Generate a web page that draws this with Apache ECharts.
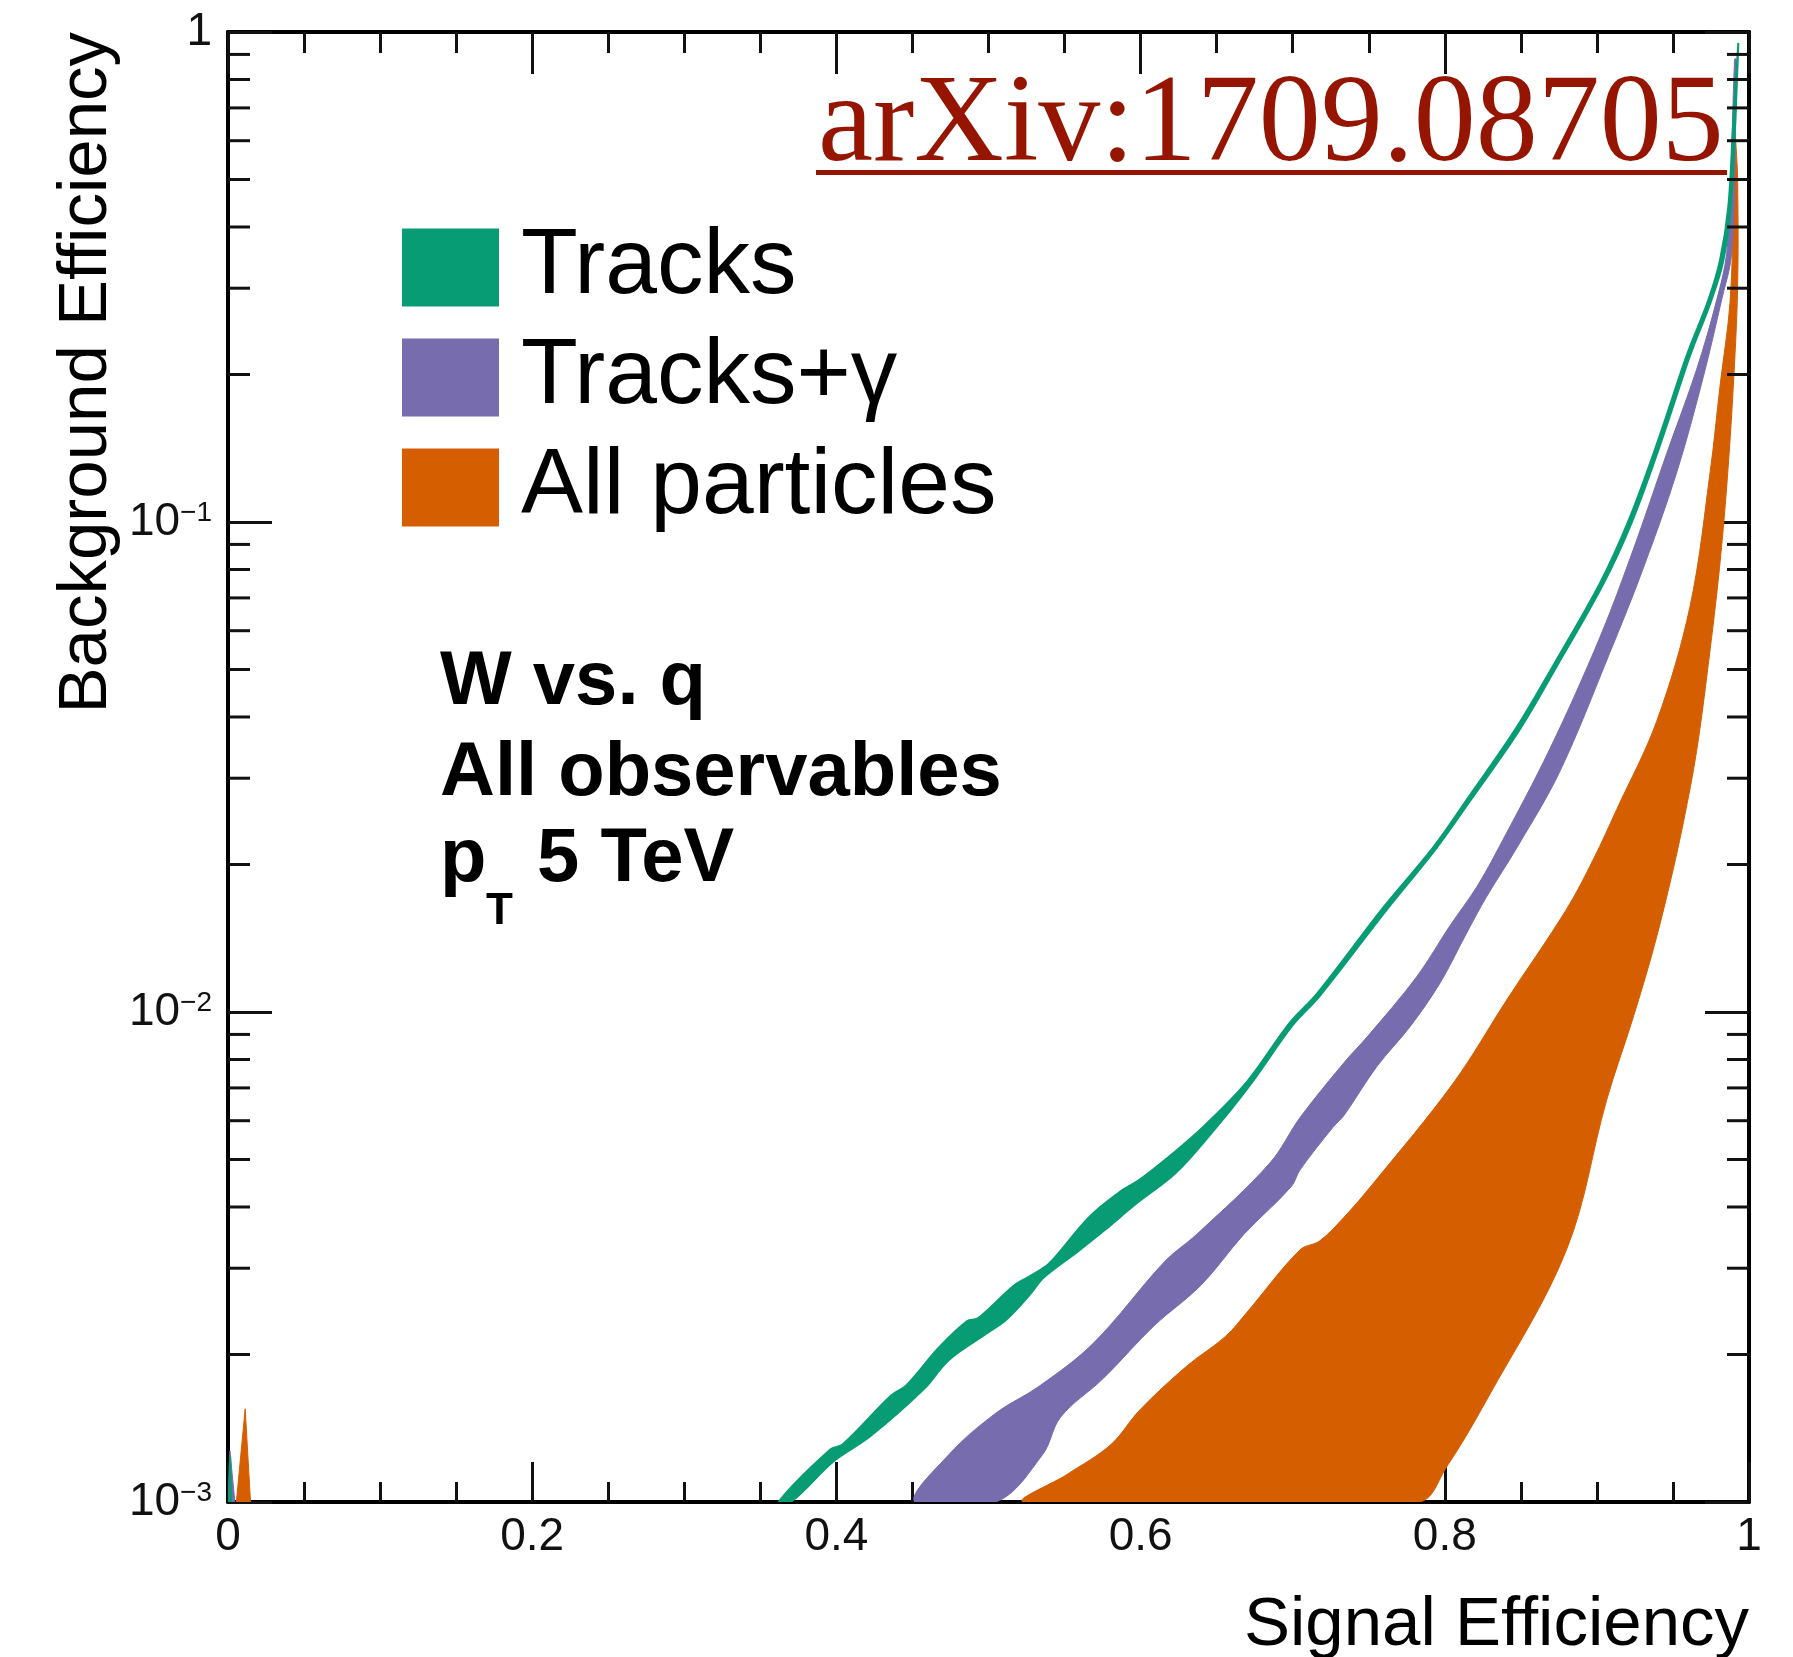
<!DOCTYPE html>
<html>
<head>
<meta charset="utf-8">
<title>W vs. q - ROC bands</title>
<script src="https://cdn.jsdelivr.net/npm/echarts@6/dist/echarts.min.js"></script>
<style>
  html, body { margin: 0; padding: 0; background: #fff; }
  #chart { width: 1793px; height: 1657px; }
</style>
</head>
<body>
<div id="chart"></div>
<script>
// axis ticks
var xTickValues = [0, 0.2, 0.4, 0.6, 0.8, 1];
var xTickLabels = ['0', '0.2', '0.4', '0.6', '0.8', '1'];
var yTickValues = [0.001, 0.01, 0.1, 1];
var yTickLabels = ['10{sup|\u22123}', '10{sup|\u22122}', '10{sup|\u22121}', '1'];
var yMinorTicks = [0.002, 0.003, 0.004, 0.005, 0.006, 0.007, 0.008, 0.009,
                   0.02, 0.03, 0.04, 0.05, 0.06, 0.07, 0.08, 0.09,
                   0.2, 0.3, 0.4, 0.5, 0.6, 0.7, 0.8, 0.9];

var seriesNames = ['Tracks', 'Tracks+\u03b3', 'All particles'];
var seriesColors = ['#079c73', '#766cae', '#d55e00'];

// band edges as [signal eff, background eff], bottom to top
// "upper" = left/high edge, "lower" = right/low edge
var tracksUpper = [
  [0.362, 0.001], [0.396, 0.00128], [0.404, 0.00131], [0.436, 0.00165], [0.446, 0.00173],
  [0.467, 0.00206], [0.486, 0.00234], [0.493, 0.00237], [0.517, 0.00277], [0.529, 0.00291],
  [0.540, 0.00307], [0.566, 0.00381], [0.588, 0.00433], [0.599, 0.00454], [0.623, 0.0052],
  [0.642, 0.00586], [0.670, 0.00721], [0.698, 0.0095], [0.716, 0.0109], [0.760, 0.0164],
  [0.7925, 0.0217], [0.8144, 0.0271], [0.847, 0.038], [0.872, 0.0514], [0.902, 0.075],
  [0.921, 0.101], [0.939, 0.143], [0.9568, 0.209], [0.9612, 0.228], [0.9733, 0.284],
  [0.981, 0.343], [0.9864, 0.44], [0.9897, 0.66], [0.993, 0.95]
];
var tracksLower = [
  [0.370, 0.001], [0.398, 0.00121], [0.422, 0.00136], [0.4575, 0.0017], [0.474, 0.00195],
  [0.500, 0.00222], [0.512, 0.00236], [0.5285, 0.00268], [0.5356, 0.00286], [0.559, 0.00325],
  [0.576, 0.00358], [0.597, 0.00406], [0.623, 0.00469], [0.647, 0.00568], [0.672, 0.0071],
  [0.700, 0.0094], [0.718, 0.0108], [0.762, 0.0162], [0.794, 0.0215], [0.816, 0.0268],
  [0.849, 0.0376], [0.874, 0.051], [0.904, 0.0745], [0.923, 0.1], [0.941, 0.142],
  [0.9588, 0.208], [0.9632, 0.227], [0.975, 0.282], [0.983, 0.34], [0.988, 0.44],
  [0.991, 0.66], [0.993, 0.95]
];
var tracksSpike = [[0.0008, 0.001], [0.0014, 0.00124], [0.002, 0.001]];

var tracksGammaUpper = [
  [0.4516, 0.001], [0.474, 0.00125], [0.505, 0.00152], [0.533, 0.00172], [0.569, 0.00211],
  [0.616, 0.0031], [0.637, 0.00352], [0.685, 0.00492], [0.705, 0.0061], [0.734, 0.0079],
  [0.749, 0.0089], [0.7815, 0.0118], [0.8034, 0.015], [0.821, 0.018], [0.836, 0.0218],
  [0.8692, 0.0345], [0.902, 0.0582], [0.924, 0.088], [0.9459, 0.138], [0.9656, 0.205],
  [0.9788, 0.284], [0.9853, 0.353], [0.988, 0.5], [0.9905, 0.88]
];
var tracksGammaLower = [
  [0.5048, 0.001], [0.5356, 0.00125], [0.5474, 0.00149], [0.5757, 0.00179], [0.6089, 0.00229],
  [0.6397, 0.00277], [0.668, 0.00352], [0.699, 0.0044], [0.7048, 0.00476], [0.7267, 0.00583],
  [0.7337, 0.00615], [0.7552, 0.00773], [0.7771, 0.00933], [0.7968, 0.01145], [0.8144, 0.0145],
  [0.8275, 0.0172], [0.848, 0.0218], [0.8757, 0.031], [0.9086, 0.0542], [0.9305, 0.0805],
  [0.9524, 0.126], [0.970, 0.198], [0.982, 0.284], [0.9886, 0.353], [0.991, 0.6], [0.9915, 0.88]
];
var tracksGammaSpike = [[0.0, 0.001], [0.0013, 0.00127], [0.0045, 0.001]];

var allUpper = [
  [0.5237, 0.001], [0.552, 0.00114], [0.5805, 0.00131], [0.5994, 0.00154], [0.630, 0.00189],
  [0.656, 0.00218], [0.670, 0.00244], [0.7048, 0.00327], [0.7177, 0.00341], [0.7337, 0.00381],
  [0.753, 0.00447], [0.8056, 0.00716], [0.8407, 0.01058], [0.880, 0.0162], [0.8977, 0.0205],
  [0.913, 0.0259], [0.9393, 0.0392], [0.9612, 0.0672], [0.9744, 0.126], [0.981, 0.19],
  [0.9875, 0.28], [0.990, 0.45], [0.991, 0.62]
];
var allLower = [
  [0.7826, 0.001], [0.8012, 0.00118], [0.8275, 0.001615], [0.880, 0.00327], [0.9064, 0.00661],
  [0.924, 0.00978], [0.937, 0.0134], [0.948, 0.0183], [0.957, 0.0245], [0.9655, 0.034],
  [0.9735, 0.052], [0.9805, 0.08], [0.9855, 0.12], [0.9895, 0.185], [0.9925, 0.3],
  [0.9925, 0.5], [0.991, 0.62]
];
var allSpike = [[0.0055, 0.001], [0.0113, 0.00155], [0.0148, 0.001]];

function closeBand(upper, lower) {
  return upper.concat(lower.slice().reverse());
}

var bands = [
  [closeBand(tracksUpper, tracksLower), tracksSpike],
  [closeBand(tracksGammaUpper, tracksGammaLower), tracksGammaSpike],
  [closeBand(allUpper, allLower), allSpike]
];
var strokeWidths = [2, 1, 1];

var FONT = '"Liberation Sans", Arial, Helvetica, sans-serif';

function bandRenderer(polys, lw) {
  return function (params, api) {
    if (params.dataIndex !== 0) return null;
    var color = api.visual('color');
    var cs = params.coordSys;
    return {
      type: 'group',
      clipPath: { type: 'rect', shape: { x: cs.x, y: cs.y, width: cs.width, height: cs.height } },
      children: polys.map(function (poly, k) {
        return {
          type: 'polygon',
          shape: {
            points: poly.map(function (p) { return api.coord(p); }),
            smooth: k === 0 ? 0.35 : 0
          },
          style: { fill: color, stroke: color, lineWidth: lw }
        };
      })
    };
  };
}

var series = seriesNames.map(function (name, i) {
  return {
    name: name,
    type: 'custom',
    coordinateSystem: 'cartesian2d',
    xAxisIndex: 0,
    yAxisIndex: 0,
    itemStyle: { color: seriesColors[i] },
    encode: { x: 0, y: 1 },
    data: bands[i][0],
    renderItem: bandRenderer(bands[i], strokeWidths[i]),
    silent: true,
    z: 2 + (2 - i)
  };
});

// minor ticks of the log axis, left and right frame
series.push({
  type: 'custom',
  coordinateSystem: 'cartesian2d',
  silent: true,
  z: 10,
  encode: { x: 0, y: 1 },
  data: yMinorTicks.map(function (v) { return [0, v]; }),
  renderItem: function (params, api) {
    var v = api.value(1);
    var l = api.coord([0, v]);
    var r = api.coord([1, v]);
    var st = { stroke: '#111', lineWidth: 3 };
    return {
      type: 'group',
      children: [
        { type: 'line', shape: { x1: l[0], y1: l[1], x2: l[0] + 22, y2: l[1] }, style: st },
        { type: 'line', shape: { x1: r[0] - 22, y1: r[1], x2: r[0], y2: r[1] }, style: st }
      ]
    };
  }
});

var axisLine = { show: true, onZero: false, lineStyle: { color: '#000', width: 4 } };

var chart = echarts.init(document.getElementById('chart'), null, { renderer: 'canvas' });
chart.setOption({
  animation: false,
  backgroundColor: '#fff',
  grid: { left: 228, top: 32, width: 1521, height: 1470, containLabel: false, outerBoundsMode: 'none' },
  legend: {
    orient: 'vertical',
    left: 397,
    top: 216,
    itemWidth: 97,
    itemHeight: 78,
    itemGap: 17,
    selectedMode: false,
    data: seriesNames.map(function (n) { return { name: n, icon: 'rect' }; }),
    textStyle: {
      fontFamily: FONT, fontSize: 93, color: '#000',
      lineHeight: 60, padding: [0, 0, 27, 17]
    }
  },
  xAxis: [{
    type: 'value', min: 0, max: 1, interval: 0.2, position: 'bottom',
    axisLine: axisLine,
    axisTick: { inside: true, length: 40, lineStyle: { color: '#111', width: 3 } },
    minorTick: { show: true, splitNumber: 4, length: 20, lineStyle: { color: '#111', width: 3 } },
    splitLine: { show: false },
    axisLabel: {
      margin: 12, fontFamily: FONT, fontSize: 46, color: '#111',
      showMinLabel: true, showMaxLabel: true,
      formatter: function (v) {
        var i = xTickValues.findIndex(function (t) { return Math.abs(t - v) < 1e-9; });
        return i < 0 ? '' : xTickLabels[i];
      }
    }
  }, {
    type: 'value', min: 0, max: 1, interval: 0.2, position: 'top',
    axisLine: axisLine,
    axisTick: { inside: true, length: 42, lineStyle: { color: '#111', width: 3 } },
    minorTick: { show: true, splitNumber: 4, length: 21, lineStyle: { color: '#111', width: 3 } },
    splitLine: { show: false },
    axisLabel: { show: false }
  }],
  yAxis: [{
    type: 'log', logBase: 10, min: 0.001, max: 1, position: 'left',
    axisLine: axisLine,
    axisTick: { inside: true, length: 44, lineStyle: { color: '#111', width: 3 } },
    splitLine: { show: false },
    axisLabel: {
      margin: 16, fontFamily: FONT, fontSize: 46, color: '#111',
      showMinLabel: true, showMaxLabel: true,
      formatter: function (v) {
        var i = yTickValues.findIndex(function (t) { return Math.abs(Math.log10(t) - Math.log10(v)) < 1e-6; });
        return i < 0 ? '' : yTickLabels[i];
      },
      rich: { sup: { fontFamily: FONT, fontSize: 28, color: '#111', verticalAlign: 'top' } }
    }
  }, {
    type: 'log', logBase: 10, min: 0.001, max: 1, position: 'right',
    axisLine: axisLine,
    axisTick: { inside: true, length: 44, lineStyle: { color: '#111', width: 3 } },
    splitLine: { show: false },
    axisLabel: { show: false }
  }],
  graphic: [
    { type: 'text', x: 1749, y: 1626, silent: true,
      style: { text: 'Signal Efficiency', font: '69px ' + FONT, fill: '#000', align: 'right', verticalAlign: 'middle' } },
    { type: 'text', x: 87, y: 32, rotation: Math.PI / 2, silent: true,
      style: { text: 'Background Efficiency', font: '69px ' + FONT, fill: '#000', align: 'right', verticalAlign: 'middle' } },
    { type: 'text', x: 440, y: 683, silent: true,
      style: { text: 'W vs. q', font: 'bold 76px ' + FONT, fill: '#000', align: 'left', verticalAlign: 'middle' } },
    { type: 'text', x: 440, y: 774, silent: true,
      style: { text: 'All observables', font: 'bold 76px ' + FONT, fill: '#000', align: 'left', verticalAlign: 'middle' } },
    { type: 'text', x: 440, y: 860, silent: true,
      style: { text: 'p', font: 'bold 76px ' + FONT, fill: '#000', align: 'left', verticalAlign: 'middle' } },
    { type: 'text', x: 486, y: 912, silent: true,
      style: { text: 'T', font: 'bold 44px ' + FONT, fill: '#000', align: 'left', verticalAlign: 'middle' } },
    { type: 'text', x: 537, y: 860, silent: true,
      style: { text: '5 TeV', font: 'bold 76px ' + FONT, fill: '#000', align: 'left', verticalAlign: 'middle' } },
    { type: 'text', x: 818, y: 127, silent: true,
      style: { text: 'arXiv:1709.08705', font: '124px "Liberation Serif", "Times New Roman", serif', fill: '#951500', align: 'left', verticalAlign: 'middle' } },
    { type: 'rect', silent: true, shape: { x: 816, y: 170, width: 911, height: 5 }, style: { fill: '#951500' } }
  ],
  series: series
});
</script>
</body>
</html>
